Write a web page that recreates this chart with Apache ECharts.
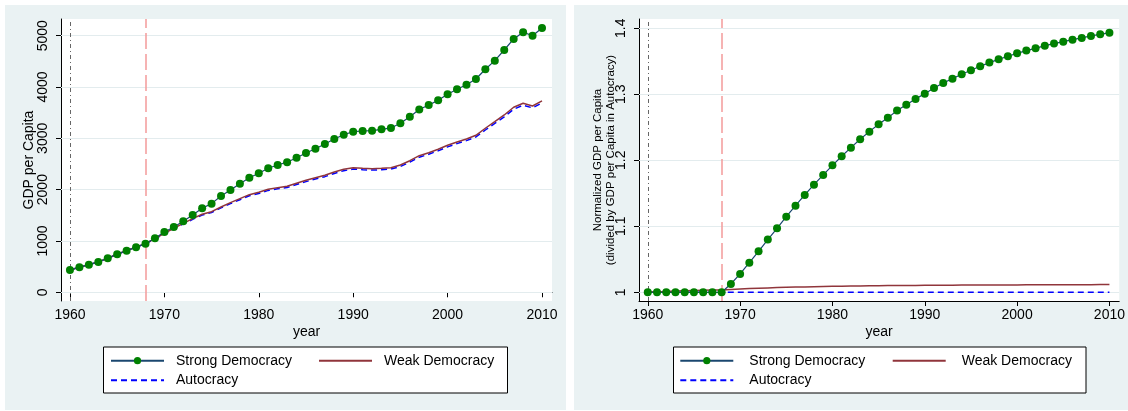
<!DOCTYPE html>
<html>
<head>
<meta charset="utf-8">
<script src="https://cdn.jsdelivr.net/npm/echarts@6/dist/echarts.min.js"></script>
<style>
  html, body { margin: 0; padding: 0; background: #ffffff; }
  #chart { width: 1128px; height: 411px; }
</style>
</head>
<body>
<div id="chart"></div>
<script>
// Years of observation
const years = [1960,1961,1962,1963,1964,1965,1966,1967,1968,1969,
  1970,1971,1972,1973,1974,1975,1976,1977,1978,1979,
  1980,1981,1982,1983,1984,1985,1986,1987,1988,1989,
  1990,1991,1992,1993,1994,1995,1996,1997,1998,1999,
  2000,2001,2002,2003,2004,2005,2006,2007,2008,2009,2010];

// GDP per capita by regime type
const strongGdp = [434,487,538,590,662,740,811,877,947,1052,
  1175,1272,1383,1506,1637,1727,1876,1993,2116,2233,
  2319,2416,2481,2533,2623,2714,2798,2890,2987,3071,
  3129,3143,3149,3176,3202,3293,3422,3560,3648,3740,
  3858,3955,4045,4156,4345,4513,4721,4936,5066,5000,5150];
const weakGdp = [435,488,539,592,664,742,814,880,950,1045,
  1150,1247,1344,1435,1520,1571,1662,1746,1824,1902,
  1948,2007,2039,2065,2124,2182,2233,2280,2344,2397,
  2428,2416,2409,2416,2428,2481,2564,2662,2720,2786,
  2864,2929,2987,3059,3196,3325,3455,3605,3683,3630,3728];
const autoGdp = [434,487,538,590,662,740,811,877,947,1036,
  1143,1237,1332,1421,1505,1555,1644,1727,1804,1881,
  1926,1985,2016,2041,2099,2156,2207,2253,2316,2369,
  2400,2388,2381,2388,2400,2452,2535,2632,2690,2756,
  2833,2897,2955,3026,3162,3290,3419,3568,3646,3593,3690];

// GDP per capita relative to autocracy
const strongNorm = [1,1,1,1,1,1,1,1,1,1.0126,
  1.0278,1.0449,1.0621,1.0798,1.0970,1.1146,1.1313,1.1475,1.1631,1.1778,
  1.1924,1.2061,1.2192,1.2318,1.2434,1.2545,1.2646,1.2753,1.2843,1.2929,
  1.3010,1.3096,1.3172,1.3237,1.3303,1.3364,1.3424,1.3480,1.3530,1.3576,
  1.3621,1.3662,1.3697,1.3737,1.3768,1.3798,1.3828,1.3854,1.3884,1.3909,1.3934];
const weakNorm = [1.0005,1.0009,1.0013,1.0018,1.0022,1.0026,1.0030,1.0033,1.0036,1.0043,
  1.0050,1.0056,1.0061,1.0066,1.0071,1.0075,1.0079,1.0082,1.0085,1.0088,
  1.0090,1.0092,1.0094,1.0096,1.0098,1.0099,1.0101,1.0102,1.0103,1.0104,
  1.0105,1.0106,1.0107,1.0108,1.0109,1.0110,1.0110,1.0111,1.0111,1.0112,
  1.0112,1.0113,1.0113,1.0114,1.0114,1.0115,1.0115,1.0116,1.0116,1.0117,1.0117];
const autoNorm = [1,1,1,1,1,1,1,1,1,1,
  1,1,1,1,1,1,1,1,1,1,
  1,1,1,1,1,1,1,1,1,1,
  1,1,1,1,1,1,1,1,1,1,
  1,1,1,1,1,1,1,1,1,1,1];

// Tick labels
const yearTicks = [1960, 1970, 1980, 1990, 2000, 2010];
const gdpTicks = [0, 1000, 2000, 3000, 4000, 5000];
const normTicks = [1, 1.1, 1.2, 1.3, 1.4];

// Reference years: start of sample and regime change
const startYear = 1960;
const changeYear = 1968;

const names = ['Strong Democracy', 'Weak Democracy', 'Autocracy'];

const FONT = '"Liberation Sans", Arial, sans-serif';
const PANEL = '#eaf2f3';
const GRIDLINE = '#e3ecee';

function pairs(vals) { return years.map((y, i) => [y, vals[i]]); }

function xAxisFor(gridIndex) {
  return {
    type: 'value', gridIndex, min: 1959.05, max: 2011.06,
    name: 'year', nameLocation: 'middle', nameGap: 24, nameMoveOverlap: false,
    nameTextStyle: { color: '#000', fontSize: 14, fontFamily: FONT },
    axisLine: { show: true, lineStyle: { color: '#000', width: 1 } },
    axisTick: { show: true, length: 5, lineStyle: { color: '#000' }, customValues: yearTicks },
    axisLabel: { color: '#000', fontSize: 14, fontFamily: FONT, margin: 7,
      customValues: yearTicks, formatter: v => String(v) },
    splitLine: { show: false }
  };
}

function yAxisFor(gridIndex, min, max, ticks, name, nameStyle, nameGap) {
  return {
    type: 'value', gridIndex, min, max,
    name, nameLocation: 'middle', nameGap, nameMoveOverlap: false,
    nameTextStyle: Object.assign({ color: '#000', fontFamily: FONT }, nameStyle),
    axisLine: { show: true, lineStyle: { color: '#000', width: 1 } },
    axisTick: { show: true, length: 5, lineStyle: { color: '#000' }, customValues: ticks },
    axisLabel: { color: '#000', fontSize: 14, fontFamily: FONT, rotate: 90, margin: 11,
      customValues: ticks, formatter: v => String(v) },
    splitLine: { show: false }
  };
}

// Horizontal gridlines plus the two vertical reference lines
function refLines(ticks) {
  const grid = ticks.map(t => ({ yAxis: t, lineStyle: { color: GRIDLINE, width: 1, type: 'solid' } }));
  return {
    silent: true, symbol: 'none', z: 1, animation: false,
    label: { show: false },
    data: grid.concat([
      { xAxis: startYear, lineStyle: { color: '#666', width: 1, type: [4, 3, 1, 3] } },
      { xAxis: changeYear, lineStyle: { color: '#f39a9a', width: 1.5, type: [16, 5] } }
    ])
  };
}

function seriesFor(idx, strong, weak, auto, ticks) {
  return [
    {
      name: names[2], type: 'line', xAxisIndex: idx, yAxisIndex: idx, z: 2,
      data: pairs(auto), symbol: 'none',
      lineStyle: { color: '#0000ff', width: 1.5, type: [6, 4] },
      itemStyle: { color: '#0000ff' },
      markLine: refLines(ticks)
    },
    {
      name: names[1], type: 'line', xAxisIndex: idx, yAxisIndex: idx, z: 3,
      data: pairs(weak), symbol: 'none',
      lineStyle: { color: '#90353b', width: 1.5 },
      itemStyle: { color: '#90353b' }
    },
    {
      name: names[0], type: 'line', xAxisIndex: idx, yAxisIndex: idx, z: 4,
      data: pairs(strong), symbol: 'circle', symbolSize: 8, showAllSymbol: true,
      lineStyle: { color: '#1a476f', width: 1.2 },
      itemStyle: { color: '#008000', borderWidth: 0 }
    }
  ];
}

// Line-only key entries hide the marker that the legend adds by default
function legendItem(name, left, top, padLeft, lineOnly) {
  const entry = lineOnly ? { name, itemStyle: { opacity: 0 } } : { name };
  return {
    data: [entry], left, top, orient: 'horizontal', padding: 0,
    itemWidth: 53, itemHeight: 9, itemGap: 0, selectedMode: false,
    textStyle: { color: '#000', fontSize: 14, fontFamily: FONT, lineHeight: 16, padding: [0, 0, 0, padLeft] }
  };
}

const chart = echarts.init(document.getElementById('chart'), null, { renderer: 'canvas' });

chart.setOption({
  animation: false,
  backgroundColor: '#ffffff',
  textStyle: { fontFamily: FONT },
  graphic: [
    { type: 'rect', z: -10, shape: { x: 5, y: 5, width: 561, height: 405 }, style: { fill: PANEL } },
    { type: 'rect', z: -10, shape: { x: 574, y: 5, width: 554, height: 405 }, style: { fill: PANEL } },
    { type: 'rect', z: -5, shape: { x: 103.5, y: 347, width: 404, height: 46 }, style: { fill: '#fff', stroke: '#000', lineWidth: 1 } },
    { type: 'rect', z: -5, shape: { x: 673.5, y: 347, width: 412.5, height: 46 }, style: { fill: '#fff', stroke: '#000', lineWidth: 1 } }
  ],
  grid: [
    { left: 61, top: 19, width: 491, height: 282, show: true, backgroundColor: '#fff', borderWidth: 0 },
    { left: 639, top: 19, width: 482, height: 282, show: true, backgroundColor: '#fff', borderWidth: 0 }
  ],
  xAxis: [xAxisFor(0), xAxisFor(1)],
  yAxis: [
    yAxisFor(0, -170, 5325, gdpTicks, 'GDP per Capita', { fontSize: 14 }, 25),
    yAxisFor(1, 0.9868, 1.4141, normTicks,
      'Normalized GDP per Capita\n(divided by GDP per Capita in Autocracy)',
      { fontSize: 11.5, lineHeight: 13 }, 22)
  ],
  legend: [
    legendItem(names[0], 110, 352.7, 7, false),
    legendItem(names[1], 318, 352.7, 7, true),
    legendItem(names[2], 110, 372.3, 7, true),
    legendItem(names[0], 679.3, 352.7, 11, false),
    legendItem(names[1], 891.7, 352.7, 11, true),
    legendItem(names[2], 679.3, 372.3, 11, true)
  ],
  series: seriesFor(0, strongGdp, weakGdp, autoGdp, gdpTicks)
    .concat(seriesFor(1, strongNorm, weakNorm, autoNorm, normTicks))
});
</script>
</body>
</html>
